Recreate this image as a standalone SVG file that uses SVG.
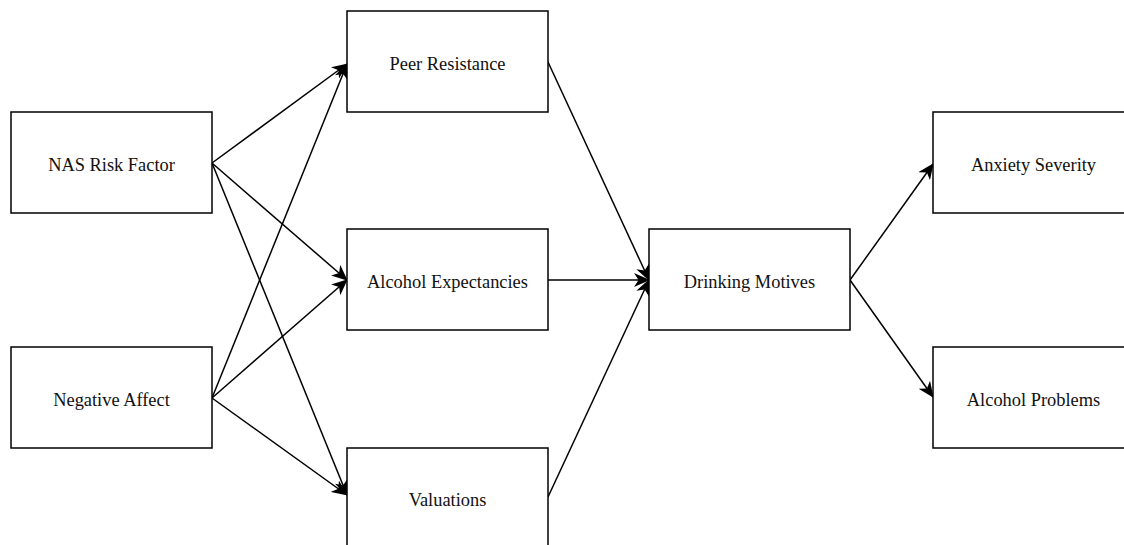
<svg xmlns="http://www.w3.org/2000/svg" width="1124" height="545" viewBox="0 0 1124 545">
<style>
.box{fill:#fff;stroke:#000;stroke-width:1.5}
.lbl{font-family:"Liberation Serif","Times New Roman",serif;font-size:18.4px;fill:#111;text-anchor:middle;dominant-baseline:central}
.edge{fill:none;stroke:#000;stroke-width:1.5}
</style>
<defs>
<marker id="arr" viewBox="0 0 16 14" refX="15" refY="7" markerWidth="16" markerHeight="14" markerUnits="userSpaceOnUse" orient="auto">
<path d="M0,0 L16,7 L0,14 L4.5,7 Z" fill="#000"/>
</marker>
</defs>
<rect width="1124" height="545" fill="#fff"/>
<g id="connectors">
<line class="edge" x1="212" y1="163" x2="347" y2="64" marker-end="url(#arr)"/>
<line class="edge" x1="212" y1="163" x2="347" y2="280" marker-end="url(#arr)"/>
<line class="edge" x1="212" y1="163" x2="347" y2="495" marker-end="url(#arr)"/>
<line class="edge" x1="212" y1="398" x2="347" y2="64" marker-end="url(#arr)"/>
<line class="edge" x1="212" y1="398" x2="347" y2="280" marker-end="url(#arr)"/>
<line class="edge" x1="212" y1="398" x2="347" y2="495" marker-end="url(#arr)"/>
<line class="edge" x1="548" y1="62" x2="649" y2="280" marker-end="url(#arr)"/>
<line class="edge" x1="548" y1="280" x2="649" y2="280" marker-end="url(#arr)"/>
<line class="edge" x1="548" y1="497" x2="649" y2="280" marker-end="url(#arr)"/>
<line class="edge" x1="850" y1="280" x2="933" y2="164" marker-end="url(#arr)"/>
<line class="edge" x1="850" y1="280" x2="933" y2="397" marker-end="url(#arr)"/>
</g>
<g id="nas"><rect class="box" x="11" y="112" width="201" height="101"/><text class="lbl" x="111.5" y="165">NAS Risk Factor</text></g>
<g id="negaff"><rect class="box" x="11" y="347" width="201" height="101"/><text class="lbl" x="111.5" y="400">Negative Affect</text></g>
<g id="peer"><rect class="box" x="347" y="11" width="201" height="101"/><text class="lbl" x="447.5" y="64">Peer Resistance</text></g>
<g id="alcexp"><rect class="box" x="347" y="229" width="201" height="101"/><text class="lbl" x="447.5" y="282">Alcohol Expectancies</text></g>
<g id="val"><rect class="box" x="347" y="448" width="201" height="101"/><text class="lbl" x="447.5" y="500">Valuations</text></g>
<g id="drink"><rect class="box" x="649" y="229" width="201" height="101"/><text class="lbl" x="749.5" y="282">Drinking Motives</text></g>
<g id="anx"><rect class="box" x="933" y="112" width="201" height="101"/><text class="lbl" x="1033.5" y="165">Anxiety Severity</text></g>
<g id="alcprob"><rect class="box" x="933" y="347" width="201" height="101"/><text class="lbl" x="1033.5" y="400">Alcohol Problems</text></g>
</svg>
